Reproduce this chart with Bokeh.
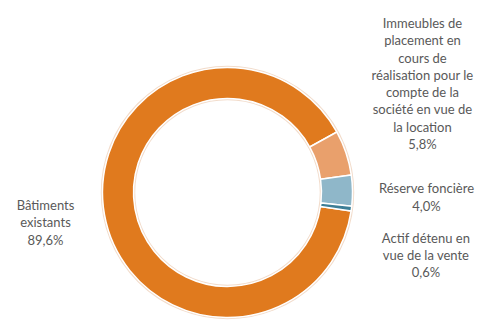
import math
from bokeh.plotting import figure
from bokeh.models import Range1d, ColumnDataSource
from bokeh.core.properties import value
from bokeh.embed import file_html
from bokeh.resources import INLINE

# ---- data ----
categories = [
    "Bâtiments\nexistants",
    "Immeubles de\nplacement en\ncours de\nréalisation pour le\ncompte de la\nsociété en vue de\nla location",
    "Réserve foncière",
    "Actif détenu en\nvue de la vente",
]
shares = [89.6, 5.8, 4.0, 0.6]

# ---- style ----
colors = ["#E07A1E", "#E9A06C", "#8FB7C9", "#3D7E96"]
label_pos = [(45, 222), (422, 83), (426, 196.5), (425.5, 254.5)]
W, H = 480, 322
cx, cy = 227, H - 192
r_in, r_out = 94, 125
start_deg = -8.5  # where the last slice ends (math angle)

p = figure(width=W, height=H, output_backend="svg", toolbar_location=None,
           x_range=Range1d(0, W), y_range=Range1d(0, H), min_border=0)
p.axis.visible = False
p.grid.visible = False
p.outline_line_color = None
p.background_fill_color = "white"
p.border_fill_color = "white"

total = sum(shares)
starts, ends = [], []
acc = start_deg
for v in reversed(shares):
    a0 = acc
    acc += v / total * 360.0
    starts.append(math.radians(a0))
    ends.append(math.radians(acc))
starts.reverse()
ends.reverse()

src = ColumnDataSource(dict(start=starts, end=ends, color=colors))

# faint halo
p.circle(x=[cx], y=[cy], radius=r_out + 1, fill_color=None, line_color="#F2DCCB", line_width=1.5)
p.circle(x=[cx], y=[cy], radius=r_in - 1, fill_color=None, line_color="#F2DCCB", line_width=1.5)

p.annular_wedge(x=cx, y=cy, inner_radius=r_in, outer_radius=r_out,
                start_angle="start", end_angle="end", direction="anticlock",
                fill_color="color", line_color="white", line_width=1.5, source=src)

texts = [c + "\n" + ("%.1f" % v).replace(".", ",") + "%" for c, v in zip(categories, shares)]
lsrc = ColumnDataSource(dict(x=[lp[0] for lp in label_pos],
                             y=[H - lp[1] for lp in label_pos], t=texts))
p.text(x="x", y="y", text="t", source=lsrc, text_align="center", text_baseline="middle",
       text_font=value("Lato"), text_font_size="13px", text_color="#595959",
       text_line_height=1.08)

open("out.html", "w").write(file_html(p, INLINE))
